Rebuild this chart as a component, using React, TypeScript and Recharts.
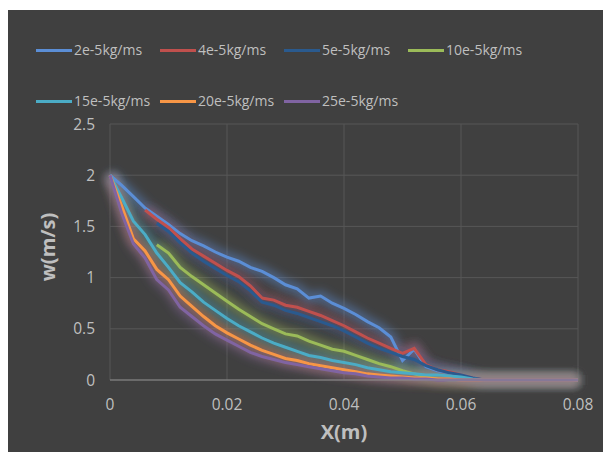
import React from 'react';
import { LineChart, Line, XAxis, YAxis, CartesianGrid, Label } from 'recharts';

const xValues = [
  0, 0.002, 0.004, 0.006, 0.008, 0.01, 0.012, 0.014, 0.016, 0.018,
  0.02, 0.022, 0.024, 0.026, 0.028, 0.03, 0.032, 0.034, 0.036, 0.038,
  0.04, 0.042, 0.044, 0.046, 0.048, 0.05, 0.052, 0.054, 0.056, 0.058,
  0.06, 0.062, 0.064, 0.066, 0.068, 0.07, 0.072, 0.074, 0.076, 0.078, 0.08,
];

const seriesNames = ['2e-5kg/ms', '4e-5kg/ms', '5e-5kg/ms', '10e-5kg/ms', '15e-5kg/ms', '20e-5kg/ms', '25e-5kg/ms'];
const seriesColors = ['#5B8ED6', '#C0504D', '#2A5A8E', '#9BBB59', '#4BACC6', '#F79646', '#8064A2'];

const w2 = [
  2.0, 1.9, 1.79, 1.68, 1.6, 1.52, 1.43, 1.36, 1.31, 1.25,
  1.2, 1.16, 1.1, 1.06, 1.0, 0.93, 0.89, 0.8, 0.82, 0.75,
  0.7, 0.64, 0.57, 0.51, 0.42, 0.19, 0.3, 0.13, 0.09, 0.07,
  0.05, 0.02, 0, 0, 0, 0, 0, 0, 0, 0, 0,
];
const w4 = [
  null, null, null, 1.66, 1.57, 1.49, 1.38, 1.28, 1.21, 1.14,
  1.07, 1.01, 0.92, 0.8, 0.78, 0.73, 0.71, 0.67, 0.63, 0.58,
  0.53, 0.47, 0.41, 0.36, 0.31, 0.26, 0.31, 0.15, 0.1, 0.08,
  0.05, 0.02, 0, 0, 0, 0, 0, 0, 0, 0, 0,
];
const w5 = [
  null, null, null, null, 1.53, 1.45, 1.34, 1.24, 1.16, 1.09,
  1.02, 0.96, 0.87, 0.76, 0.73, 0.68, 0.65, 0.61, 0.57, 0.53,
  0.48, 0.42, 0.36, 0.31, 0.27, 0.23, 0.2, 0.14, 0.1, 0.07,
  0.05, 0.02, 0, 0, 0, 0, 0, 0, 0, 0, 0,
];
const w10 = [
  null, null, null, null, 1.32, 1.24, 1.1, 1.01, 0.93, 0.85,
  0.77, 0.69, 0.62, 0.55, 0.5, 0.45, 0.43, 0.38, 0.34, 0.3,
  0.28, 0.24, 0.2, 0.16, 0.13, 0.09, 0.06, 0.03, 0.01, 0,
  0, 0, 0, 0, 0, 0, 0, 0, 0, 0, 0,
];
const w15 = [
  2.0, 1.78, 1.55, 1.42, 1.24, 1.1, 0.95, 0.86, 0.76, 0.68,
  0.6, 0.53, 0.47, 0.41, 0.36, 0.32, 0.28, 0.24, 0.22, 0.19,
  0.17, 0.15, 0.12, 0.1, 0.08, 0.07, 0.06, 0.05, 0.05, 0.04,
  0.03, 0.01, 0, 0, 0, 0, 0, 0, 0, 0, 0,
];
const w20 = [
  2.0, 1.7, 1.38, 1.26, 1.08, 0.98, 0.82, 0.72, 0.62, 0.53,
  0.46, 0.4, 0.34, 0.29, 0.25, 0.21, 0.19, 0.16, 0.14, 0.12,
  0.1, 0.08, 0.06, 0.05, 0.04, 0.03, 0.02, 0.02, 0.01, 0.01,
  0, 0, 0, 0, 0, 0, 0, 0, 0, 0, 0,
];
const w25 = [
  2.0, 1.63, 1.33, 1.19, 0.98, 0.88, 0.71, 0.62, 0.53, 0.45,
  0.39, 0.33, 0.27, 0.23, 0.2, 0.17, 0.15, 0.13, 0.11, 0.09,
  0.07, 0.06, 0.04, 0.03, 0.02, 0.02, 0.01, 0.01, 0, 0,
  0, 0, 0, 0, 0, 0, 0, 0, 0, 0, 0,
];

const seriesValues = [w2, w4, w5, w10, w15, w20, w25];
const xTicks = [0, 0.02, 0.04, 0.06, 0.08];
const yTicks = [0, 0.5, 1, 1.5, 2, 2.5];

const data = xValues.map((x, i) => {
  const row: Record<string, number | null> = { x };
  seriesValues.forEach((vals, k) => {
    row['s' + k] = vals[i];
  });
  return row;
});

const TEXT = '#BFBFBF';
const FONT = '"Open Sans", sans-serif';

const legendLefts = [28, 152, 276, 400];
const legendTops = [40, 91];

export default function App() {
  return (
    <div style={{ position: 'relative', width: 603, height: 442, marginTop: 2, background: '#404040', fontFamily: FONT }}>
      <LineChart width={603} height={442} data={data} margin={{ top: 114, right: 33, bottom: 0, left: 0 }}>
        <defs>
          <filter id="glow" x="-20%" y="-20%" width="140%" height="140%">
            <feGaussianBlur stdDeviation="5" />
          </filter>
        </defs>
        <CartesianGrid stroke="#575757" strokeWidth={1} />
        <XAxis
          type="number"
          dataKey="x"
          domain={[0, 0.08]}
          ticks={xTicks}
          tickFormatter={(v: number) => String(v)}
          axisLine={{ stroke: '#8C8C8C', strokeWidth: 1 }}
          tickLine={false}
          tickSize={0}
          tickMargin={19}
          height={72}
          tick={{ fill: TEXT, fontSize: 15.5, fontFamily: FONT }}
        >
          <Label value="X(m)" position="insideBottom" offset={13} fill={TEXT} fontSize={20} fontWeight="bold" fontFamily={FONT} />
        </XAxis>
        <YAxis
          type="number"
          domain={[0, 2.5]}
          ticks={yTicks}
          axisLine={false}
          tickLine={false}
          tickSize={0}
          tickMargin={15}
          width={102}
          tick={{ fill: TEXT, fontSize: 15.5, fontFamily: FONT }}
        >
          <Label
            content={() => (
              <text
                x={39}
                y={237}
                transform="rotate(-90 39 237)"
                textAnchor="middle"
                dominantBaseline="central"
                fill={TEXT}
                fontSize={20}
                fontWeight="bold"
                fontFamily={FONT}
              >
                w(m/s)
              </text>
            )}
          />
        </YAxis>
        {seriesValues.map((_, k) => (
          <Line
            key={'g' + k}
            dataKey={'s' + k}
            type="linear"
            stroke={seriesColors[k]}
            strokeWidth={10}
            strokeOpacity={0.5}
            filter="url(#glow)"
            dot={false}
            activeDot={false}
            isAnimationActive={false}
            legendType="none"
          />
        ))}
        {seriesValues.map((_, k) => (
          <Line
            key={'l' + k}
            dataKey={'s' + k}
            type="linear"
            stroke={seriesColors[k]}
            strokeWidth={3}
            dot={false}
            activeDot={false}
            isAnimationActive={false}
            name={seriesNames[k]}
          />
        ))}
      </LineChart>
      {seriesNames.map((name, k) => {
        const row = k < 4 ? 0 : 1;
        const col = k < 4 ? k : k - 4;
        return (
          <div
            key={name}
            style={{
              position: 'absolute',
              left: legendLefts[col],
              top: legendTops[row] - 12,
              height: 24,
              display: 'flex',
              alignItems: 'center',
              whiteSpace: 'nowrap',
            }}
          >
            <div style={{ width: 36, height: 3, background: seriesColors[k] }} />
            <span style={{ marginLeft: 2, color: TEXT, fontSize: 14, fontFamily: FONT, lineHeight: '24px' }}>{name}</span>
          </div>
        );
      })}
    </div>
  );
}
